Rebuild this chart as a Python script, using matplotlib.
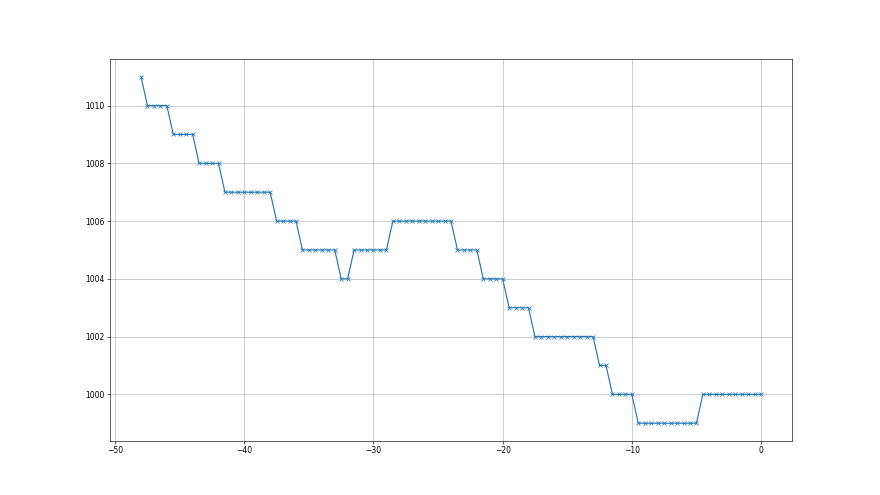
import matplotlib
matplotlib.use("Agg")
import matplotlib.pyplot as plt

# hours relative to now (half-hour readings)
hours = [-48.0, -47.5, -47.0, -46.5, -46.0, -45.5, -45.0, -44.5, -44.0, -43.5,
         -43.0, -42.5, -42.0, -41.5, -41.0, -40.5, -40.0, -39.5, -39.0, -38.5,
         -38.0, -37.5, -37.0, -36.5, -36.0, -35.5, -35.0, -34.5, -34.0, -33.5,
         -33.0, -32.5, -32.0, -31.5, -31.0, -30.5, -30.0, -29.5, -29.0, -28.5,
         -28.0, -27.5, -27.0, -26.5, -26.0, -25.5, -25.0, -24.5, -24.0, -23.5,
         -23.0, -22.5, -22.0, -21.5, -21.0, -20.5, -20.0, -19.5, -19.0, -18.5,
         -18.0, -17.5, -17.0, -16.5, -16.0, -15.5, -15.0, -14.5, -14.0, -13.5,
         -13.0, -12.5, -12.0, -11.5, -11.0, -10.5, -10.0, -9.5, -9.0, -8.5,
         -8.0, -7.5, -7.0, -6.5, -6.0, -5.5, -5.0, -4.5, -4.0, -3.5,
         -3.0, -2.5, -2.0, -1.5, -1.0, -0.5, 0.0]

# pressure readings
pressure = [1011, 1010, 1010, 1010, 1010, 1009, 1009, 1009, 1009, 1008,
            1008, 1008, 1008, 1007, 1007, 1007, 1007, 1007, 1007, 1007,
            1007, 1006, 1006, 1006, 1006, 1005, 1005, 1005, 1005, 1005,
            1005, 1004, 1004, 1005, 1005, 1005, 1005, 1005, 1005, 1006,
            1006, 1006, 1006, 1006, 1006, 1006, 1006, 1006, 1006, 1005,
            1005, 1005, 1005, 1004, 1004, 1004, 1004, 1003, 1003, 1003,
            1003, 1002, 1002, 1002, 1002, 1002, 1002, 1002, 1002, 1002,
            1002, 1001, 1001, 1000, 1000, 1000, 1000, 999, 999, 999,
            999, 999, 999, 999, 999, 999, 999, 1000, 1000, 1000,
            1000, 1000, 1000, 1000, 1000, 1000, 1000]

fig, ax = plt.subplots(figsize=(16, 9), dpi=55)
ax.plot(hours, pressure, marker='x', color='#1f77b4')
ax.grid(True)
fig.savefig("out.png", dpi=55)
